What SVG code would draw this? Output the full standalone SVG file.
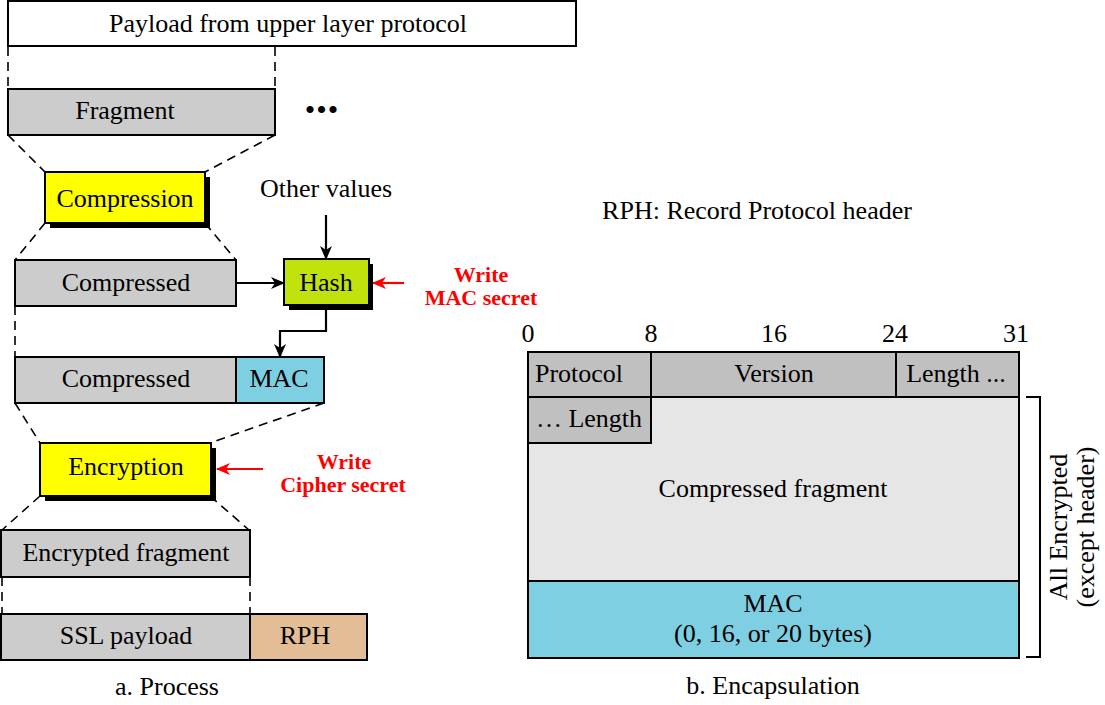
<svg xmlns="http://www.w3.org/2000/svg" width="1105" height="705" viewBox="0 0 1105 705">
<defs>
<style>
text{font-family:"Liberation Serif","Times New Roman",serif;font-size:26px;fill:#000;text-anchor:middle}
.red{fill:#ff0000;font-weight:bold;font-size:22px}
.box{stroke:#000;stroke-width:2}
.g1{fill:#cccccc}
.g2{fill:#c0c0c0}
.g3{fill:#e6e6e6}
.yel{fill:#ffff00}
.grn{fill:#c2e20e}
.blu{fill:#7ecfe2}
.tan{fill:#e2bd96}
.wht{fill:#ffffff}
.dash{stroke:#000;stroke-width:1.6;stroke-dasharray:9 6;fill:none}
.arr{stroke:#000;stroke-width:2.2;fill:none}
.rarr{stroke:#ff0000;stroke-width:2.2;fill:none}
</style>
<marker id="ah" markerWidth="14" markerHeight="12" refX="13" refY="6" orient="auto" markerUnits="userSpaceOnUse">
<path d="M0,0 L14,6 L0,12 L4,6 Z" fill="#000"/>
</marker>
<marker id="rah" markerWidth="14" markerHeight="12" refX="13" refY="6" orient="auto" markerUnits="userSpaceOnUse">
<path d="M0,0 L14,6 L0,12 L4,6 Z" fill="#ff0000"/>
</marker>
</defs>
<rect width="1105" height="705" fill="#fff"/>

<g id="connectors">
<line class="dash" x1="8" y1="47" x2="8" y2="89"/>
<line class="dash" x1="275" y1="47" x2="275" y2="89"/>
<line class="dash" x1="8" y1="135" x2="45" y2="172"/>
<line class="dash" x1="275" y1="135" x2="205" y2="172"/>
<line class="dash" x1="45" y1="223" x2="15" y2="260"/>
<line class="dash" x1="205" y1="223" x2="236" y2="260"/>
<line class="dash" x1="15" y1="306" x2="15" y2="357"/>
<line class="dash" x1="15" y1="403" x2="40" y2="443"/>
<line class="dash" x1="324" y1="403" x2="210" y2="443"/>
<line class="dash" x1="40" y1="496" x2="2" y2="530"/>
<line class="dash" x1="210" y1="496" x2="249" y2="530"/>
<line class="dash" x1="2" y1="577" x2="2" y2="614"/>
<line class="dash" x1="250" y1="577" x2="250" y2="614"/>
<line class="arr" x1="326" y1="215" x2="326" y2="259" marker-end="url(#ah)"/>
<line class="arr" x1="236" y1="283" x2="284" y2="283" marker-end="url(#ah)"/>
<polyline class="arr" points="326,305 326,331 280,331 280,357" marker-end="url(#ah)"/>
<line class="rarr" x1="404" y1="283" x2="373" y2="283" marker-end="url(#rah)"/>
<line class="rarr" x1="263" y1="469" x2="217" y2="469" marker-end="url(#rah)"/>
<path d="M1026,397 H1040 V657 H1026" stroke="#000" stroke-width="2" fill="none"/>
</g>

<g id="payload">
<rect class="box wht" x="8" y="1" width="568" height="45"/>
<text x="288" y="32">Payload from upper layer protocol</text>
</g>
<g id="fragment">
<rect class="box g1" x="8" y="89" width="267" height="46"/>
<text x="125" y="119">Fragment</text>
</g>
<g id="dots">
<text x="322" y="120" style="font-size:30px;letter-spacing:1px">•••</text>
</g>
<g id="compression">
<rect x="50" y="177" width="160" height="51" fill="#000"/>
<rect class="box yel" x="45" y="172" width="160" height="51"/>
<text x="125" y="207">Compression</text>
</g>
<g id="other-values">
<text x="326" y="197">Other values</text>
</g>
<g id="compressed1">
<rect class="box g1" x="15" y="260" width="221" height="46"/>
<text x="126" y="291">Compressed</text>
</g>
<g id="hash">
<rect x="289" y="264" width="84" height="46" fill="#000"/>
<rect class="box grn" x="284" y="259" width="85" height="46"/>
<text x="326" y="291">Hash</text>
</g>
<g id="write-mac">
<text class="red" x="481" y="282">Write</text>
<text class="red" x="481" y="305">MAC secret</text>
</g>
<g id="compressed2">
<rect class="box g1" x="15" y="357" width="221" height="46"/>
<text x="126" y="387">Compressed</text>
</g>
<g id="mac1">
<rect class="box blu" x="236" y="357" width="88" height="46"/>
<text x="279" y="387">MAC</text>
</g>
<g id="encryption">
<rect x="45" y="448" width="171" height="53" fill="#000"/>
<rect class="box yel" x="40" y="443" width="171" height="53"/>
<text x="126" y="475">Encryption</text>
</g>
<g id="write-cipher">
<text class="red" x="344" y="469">Write</text>
<text class="red" x="343" y="492">Cipher secret</text>
</g>
<g id="encrypted-fragment">
<rect class="box g1" x="1" y="530" width="249" height="47"/>
<text x="126" y="561">Encrypted fragment</text>
</g>
<g id="ssl-payload">
<rect class="box g1" x="1" y="614" width="249" height="46"/>
<text x="126" y="644">SSL payload</text>
</g>
<g id="rph">
<rect class="box tan" x="250" y="614" width="117" height="46"/>
<text x="305" y="644">RPH</text>
</g>
<g id="caption-a">
<text x="167" y="695">a. Process</text>
</g>

<g id="rph-legend">
<text x="757" y="219">RPH: Record Protocol header</text>
</g>
<g id="bit-labels">
<text x="528" y="342">0</text>
<text x="651" y="342">8</text>
<text x="774" y="342">16</text>
<text x="895" y="342">24</text>
<text x="1016" y="342">31</text>
</g>
<g id="compressed-fragment">
<rect class="box g3" x="528" y="397" width="491" height="184"/>
<text x="773" y="497">Compressed fragment</text>
</g>
<g id="protocol">
<rect class="box g2" x="528" y="352" width="123" height="45"/>
<text x="579" y="382">Protocol</text>
</g>
<g id="version">
<rect class="box g2" x="651" y="352" width="245" height="45"/>
<text x="774" y="382">Version</text>
</g>
<g id="length-hi">
<rect class="box g2" x="896" y="352" width="123" height="45"/>
<text x="956" y="382">Length ...</text>
</g>
<g id="length-lo">
<rect class="box g2" x="528" y="397" width="123" height="46"/>
<text x="589" y="427">… Length</text>
</g>
<g id="mac2">
<rect class="box blu" x="528" y="581" width="491" height="77"/>
<text x="773" y="612">MAC</text>
<text x="773" y="642">(0, 16, or 20 bytes)</text>
</g>
<g id="encrypted-note">
<text transform="translate(1067,527) rotate(-90)">All Encrypted</text>
<text transform="translate(1094,527) rotate(-90)">(except header)</text>
</g>
<g id="caption-b">
<text x="773" y="694">b. Encapsulation</text>
</g>
</svg>
